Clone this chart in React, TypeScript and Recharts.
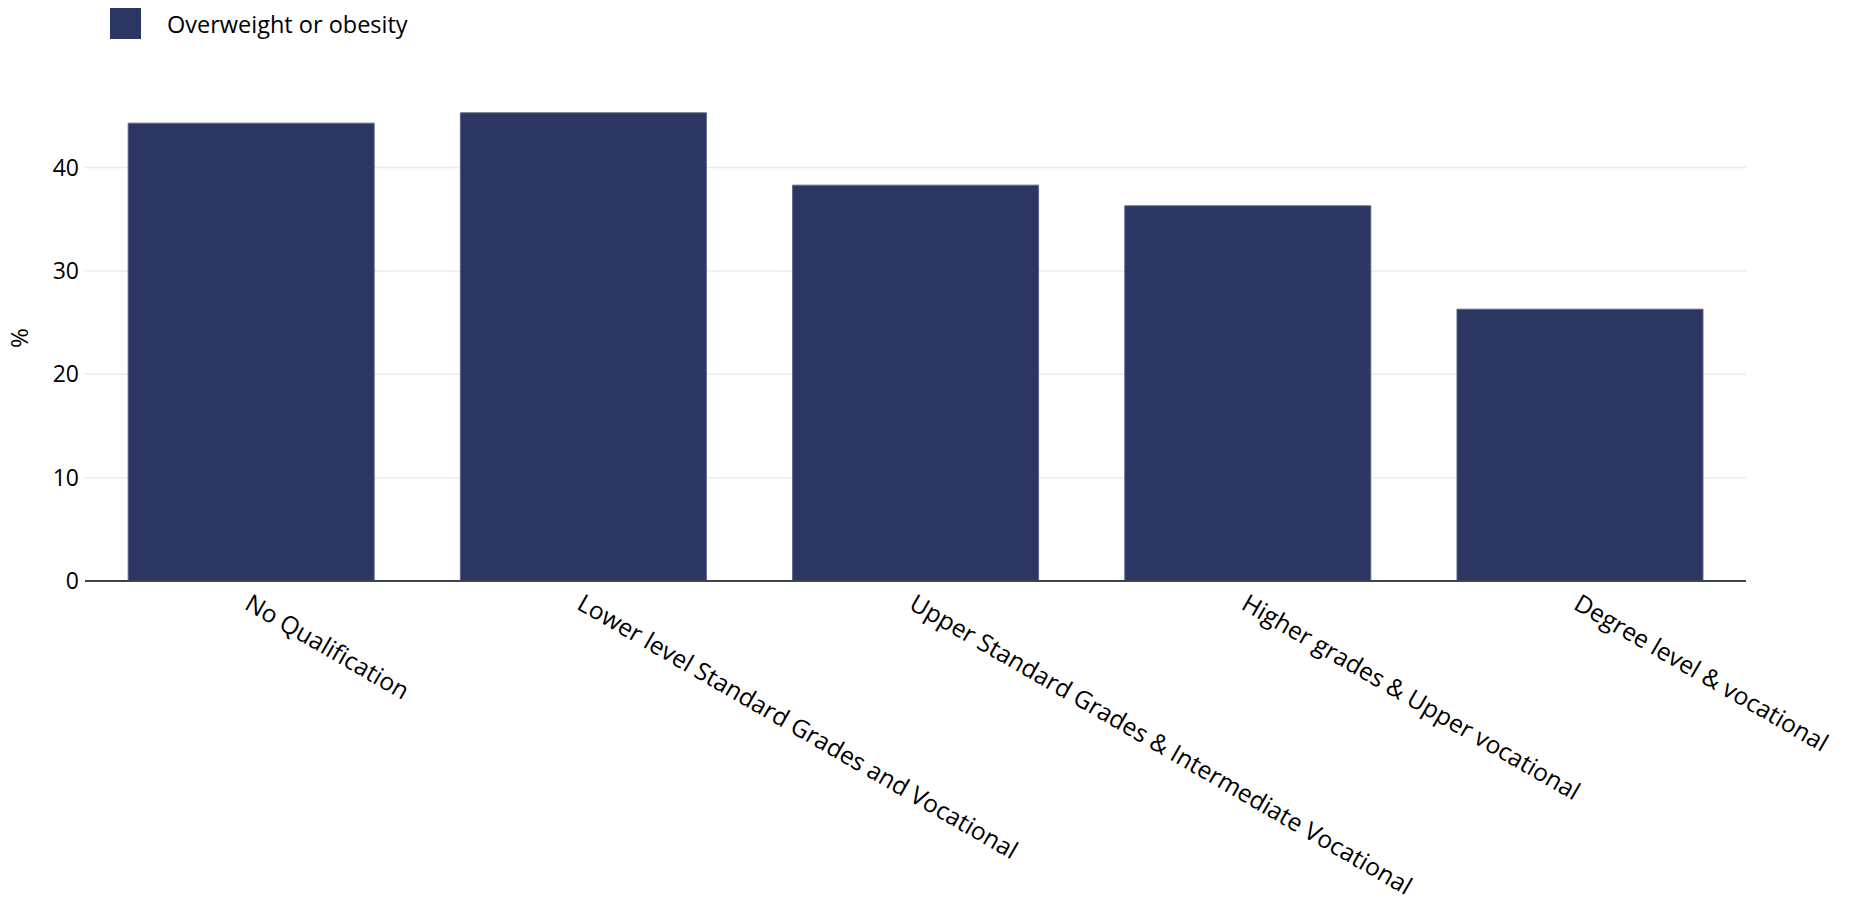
import { Bar, BarChart, CartesianGrid, Legend, XAxis, YAxis } from "recharts";

const categories = [
  "No Qualification",
  "Lower level Standard Grades and Vocational",
  "Upper Standard Grades & Intermediate Vocational",
  "Higher grades & Upper vocational",
  "Degree level & vocational",
];
const overweight = [44.3, 45.3, 38.3, 36.3, 26.3];
const yTicks = [0, 10, 20, 30, 40];

const seriesName = "Overweight or obesity";
const BAR_COLOR = "#2b3762";
const FONT = "'Open Sans', 'Noto Sans', sans-serif";

const data = categories.map((c, i) => ({ category: c, value: overweight[i] }));

const XTick = ({ x, y, payload }: any) => (
  <text
    x={x - 3}
    y={y}
    transform={`rotate(30, ${x - 3}, ${y})`}
    textAnchor="start"
    dominantBaseline="central"
    fontSize={24.5}
    fill="#000"
    fontFamily={FONT}
  >
    {payload.value}
  </text>
);

const YLabel = ({ viewBox }: any) => {
  const cx = 18;
  const cy = viewBox.y + viewBox.height / 2 + 4;
  return (
    <text x={cx} y={cy} transform={`rotate(-90, ${cx}, ${cy})`} textAnchor="middle" dominantBaseline="central" fontSize={24} fill="#000" fontFamily={FONT}>
      %
    </text>
  );
};

const LegendBox = () => (
  <div style={{ display: "flex", alignItems: "center", height: 31, fontFamily: FONT, fontSize: 23.5, color: "#000" }}>
    <span style={{ width: 31, height: 31, background: BAR_COLOR, display: "inline-block", marginRight: 26 }} />
    {seriesName}
  </div>
);

const App = () => {
  return (
    <div style={{ width: 1852, height: 911, background: "#fff" }}>
      <style>{"body{margin:0}"}</style>
      <BarChart
        width={1852}
        height={911}
        data={data}
        margin={{ top: 56, right: 106, left: 0, bottom: 0 }}
        barCategoryGap="13%"
      >
        <CartesianGrid vertical={false} horizontalValues={yTicks} stroke="#ebebeb" strokeWidth={1.5} />
        <XAxis
          dataKey="category"
          interval={0}
          height={330}
          tickLine={false}
          tickSize={0}
          tickMargin={19}
          axisLine={{ stroke: "#444", strokeWidth: 2 }}
          tick={<XTick />}
        />
        <YAxis
          width={85}
          domain={[0, 47.8]}
          ticks={yTicks}
          axisLine={false}
          tickLine={false}
          tickSize={0}
          tickMargin={6}
          tick={{ fontSize: 23, fill: "#000", fontFamily: FONT }}
          label={<YLabel />}
        />
        <Legend
          verticalAlign="top"
          align="left"
          wrapperStyle={{ top: 8, left: 110, width: "auto" }}
          content={<LegendBox />}
        />
        <Bar dataKey="value" name={seriesName} fill={BAR_COLOR} stroke="#5a6488" strokeWidth={1} isAnimationActive={false} />
      </BarChart>
    </div>
  );
};

export default App;
